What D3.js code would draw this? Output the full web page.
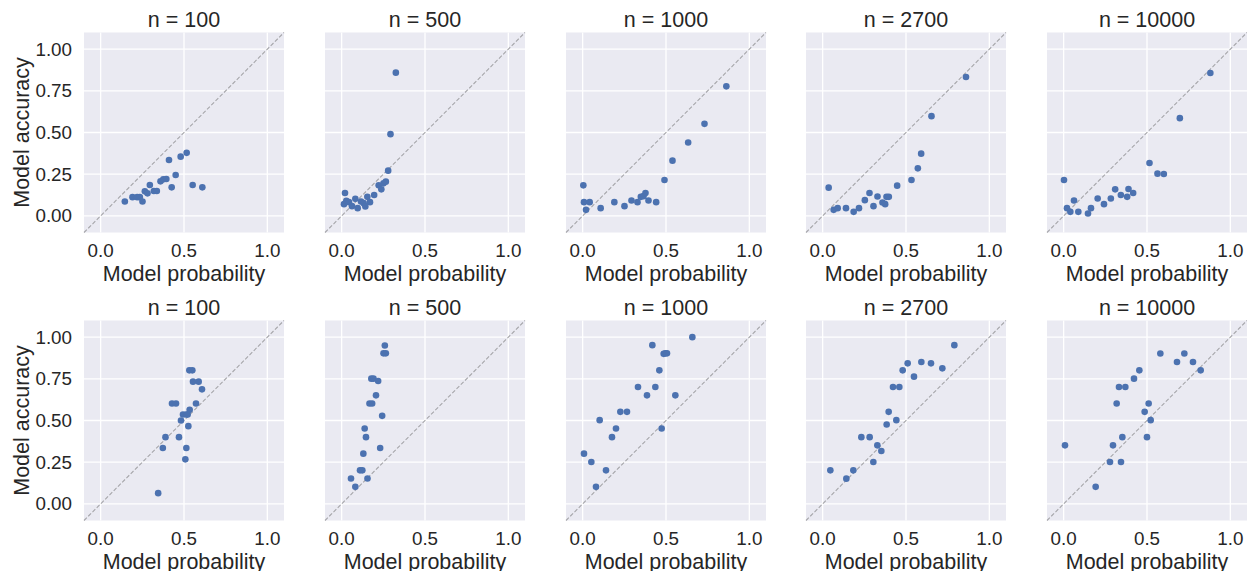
<!DOCTYPE html>
<html>
<head>
<meta charset="utf-8">
<script src="https://cdn.jsdelivr.net/npm/d3@7"></script>
<style>
  html, body { margin: 0; padding: 0; background: #fff; }
  svg { display: block; font-family: "Liberation Sans", Arial, sans-serif; }
</style>
</head>
<body>
<div id="chart"></div>
<script>
// panel titles (same for both rows)
const sampleSizes = ["n = 100", "n = 500", "n = 1000", "n = 2700", "n = 10000"];
const xTicks = [0, 0.5, 1.0];
const yTicks = [0, 0.25, 0.5, 0.75, 1.0];

// [model probability, model accuracy] — top row
const top100 = [[0.145,0.086],[0.191,0.112],[0.219,0.112],[0.235,0.112],[0.251,0.086],[0.265,0.147],[0.281,0.135],[0.295,0.185],[0.319,0.149],[0.337,0.149],[0.359,0.207],[0.376,0.219],[0.394,0.221],[0.410,0.335],[0.426,0.171],[0.450,0.245],[0.480,0.355],[0.516,0.378],[0.552,0.185],[0.610,0.171]];
const top500 = [[0.014,0.070],[0.020,0.137],[0.028,0.090],[0.044,0.082],[0.062,0.058],[0.082,0.102],[0.096,0.046],[0.116,0.086],[0.132,0.076],[0.142,0.056],[0.154,0.114],[0.170,0.082],[0.195,0.125],[0.222,0.183],[0.238,0.159],[0.251,0.195],[0.265,0.205],[0.279,0.271],[0.293,0.490],[0.325,0.859]];
const top1000 = [[0.004,0.183],[0.008,0.082],[0.020,0.036],[0.042,0.082],[0.108,0.046],[0.190,0.082],[0.251,0.058],[0.293,0.092],[0.329,0.082],[0.349,0.114],[0.365,0.118],[0.377,0.137],[0.395,0.092],[0.441,0.082],[0.491,0.215],[0.539,0.331],[0.633,0.440],[0.731,0.552],[0.862,0.777]];
const top2700 = [[0.036,0.169],[0.066,0.036],[0.090,0.046],[0.140,0.046],[0.186,0.024],[0.218,0.046],[0.253,0.094],[0.281,0.137],[0.305,0.058],[0.329,0.116],[0.359,0.080],[0.375,0.070],[0.383,0.114],[0.397,0.114],[0.447,0.181],[0.533,0.215],[0.571,0.285],[0.591,0.373],[0.653,0.598],[0.860,0.833]];
const top10000 = [[0.002,0.215],[0.020,0.046],[0.040,0.024],[0.062,0.092],[0.088,0.024],[0.146,0.014],[0.164,0.046],[0.204,0.104],[0.242,0.070],[0.283,0.104],[0.309,0.159],[0.343,0.125],[0.381,0.114],[0.389,0.161],[0.417,0.137],[0.515,0.317],[0.563,0.253],[0.601,0.251],[0.697,0.586],[0.880,0.857]];

// bottom row
const bottom100 = [[0.345,0.064],[0.373,0.335],[0.389,0.400],[0.428,0.602],[0.452,0.602],[0.470,0.400],[0.482,0.500],[0.494,0.536],[0.508,0.267],[0.514,0.335],[0.514,0.536],[0.522,0.536],[0.526,0.466],[0.534,0.564],[0.532,0.801],[0.550,0.801],[0.554,0.733],[0.572,0.602],[0.588,0.733],[0.608,0.687]];
const bottom500 = [[0.056,0.152],[0.082,0.102],[0.110,0.201],[0.124,0.201],[0.130,0.301],[0.138,0.452],[0.146,0.400],[0.155,0.152],[0.167,0.602],[0.183,0.602],[0.178,0.751],[0.191,0.751],[0.206,0.651],[0.219,0.737],[0.231,0.335],[0.243,0.528],[0.251,0.903],[0.265,0.903],[0.259,0.950]];
const bottom1000 = [[0.008,0.301],[0.052,0.251],[0.080,0.102],[0.102,0.502],[0.140,0.201],[0.176,0.400],[0.200,0.452],[0.226,0.552],[0.266,0.552],[0.332,0.701],[0.386,0.651],[0.418,0.952],[0.436,0.701],[0.460,0.801],[0.474,0.452],[0.486,0.900],[0.496,0.903],[0.506,0.903],[0.556,0.651],[0.658,1.000]];
const bottom2700 = [[0.046,0.201],[0.142,0.151],[0.184,0.201],[0.232,0.400],[0.282,0.400],[0.304,0.251],[0.328,0.351],[0.352,0.317],[0.384,0.476],[0.396,0.552],[0.422,0.701],[0.442,0.502],[0.460,0.701],[0.480,0.801],[0.510,0.843],[0.548,0.763],[0.592,0.851],[0.650,0.843],[0.718,0.813],[0.790,0.952]];
const bottom10000 = [[0.008,0.351],[0.192,0.102],[0.278,0.251],[0.296,0.351],[0.318,0.602],[0.332,0.701],[0.344,0.251],[0.352,0.400],[0.370,0.701],[0.422,0.751],[0.454,0.801],[0.486,0.552],[0.500,0.400],[0.510,0.602],[0.522,0.502],[0.580,0.902],[0.680,0.851],[0.724,0.902],[0.776,0.851],[0.822,0.801]];

const rows = [
  [top100, top500, top1000, top2700, top10000],
  [bottom100, bottom500, bottom1000, bottom2700, bottom10000]
];

const width = 1247, height = 571;
const panelW = 200, panelH = 200;
const panelLefts = [84, 325, 566, 806, 1047];
const panelTops = [32.5, 320.5];
const textColor = "#262626";

const svg = d3.select("#chart").append("svg")
  .attr("width", width)
  .attr("height", height);

const x = d3.scaleLinear().domain([-0.1, 1.1]).range([0, panelW]);
const y = d3.scaleLinear().domain([-0.1, 1.1]).range([panelH, 0]);

rows.forEach((row, r) => {
  row.forEach((points, c) => {
    const g = svg.append("g")
      .attr("transform", `translate(${panelLefts[c]}, ${panelTops[r]})`);

    // seaborn darkgrid background
    g.append("rect")
      .attr("width", panelW)
      .attr("height", panelH)
      .attr("fill", "#EAEAF2");

    // grid lines
    g.selectAll(".vgrid")
      .data(xTicks)
      .enter()
      .append("line")
      .attr("x1", d => x(d)).attr("x2", d => x(d))
      .attr("y1", 0).attr("y2", panelH)
      .attr("stroke", "#fff")
      .attr("stroke-width", 1.3);

    g.selectAll(".hgrid")
      .data(yTicks)
      .enter()
      .append("line")
      .attr("x1", 0).attr("x2", panelW)
      .attr("y1", d => y(d)).attr("y2", d => y(d))
      .attr("stroke", "#fff")
      .attr("stroke-width", 1.3);

    // perfect calibration line
    g.append("line")
      .attr("x1", x(-0.1)).attr("y1", y(-0.1))
      .attr("x2", x(1.1)).attr("y2", y(1.1))
      .attr("stroke", "#a6a6aa")
      .attr("stroke-width", 1.1)
      .attr("stroke-dasharray", "4,2");

    // points
    g.selectAll("circle")
      .data(points)
      .enter()
      .append("circle")
      .attr("cx", d => x(d[0]))
      .attr("cy", d => y(d[1]))
      .attr("r", 3.3)
      .attr("fill", "#4C72B0");

    // x tick labels
    g.selectAll(".xtick")
      .data(xTicks)
      .enter()
      .append("text")
      .attr("x", d => x(d))
      .attr("y", panelH + 24.5)
      .attr("text-anchor", "middle")
      .attr("fill", textColor)
      .style("font-size", "18.8px")
      .text(d3.format(".1f"));

    // title
    g.append("text")
      .attr("x", panelW / 2)
      .attr("y", -6)
      .attr("text-anchor", "middle")
      .attr("fill", textColor)
      .style("font-size", "21.5px")
      .text(sampleSizes[c]);

    // x label
    g.append("text")
      .attr("x", panelW / 2)
      .attr("y", panelH + 48)
      .attr("text-anchor", "middle")
      .attr("fill", textColor)
      .style("font-size", "21.5px")
      .text("Model probability");

    if (c === 0) {
      g.selectAll(".ytick")
        .data(yTicks)
        .enter()
        .append("text")
        .attr("x", -12)
        .attr("y", d => y(d))
        .attr("dy", "0.35em")
        .attr("text-anchor", "end")
        .attr("fill", textColor)
        .style("font-size", "18.8px")
        .text(d3.format(".2f"));

      g.append("text")
        .attr("transform", `translate(${29 - panelLefts[0]}, ${panelH / 2}) rotate(-90)`)
        .attr("text-anchor", "middle")
        .attr("fill", textColor)
        .style("font-size", "21.5px")
        .text("Model accuracy");
    }
  });
});
</script>
</body>
</html>
